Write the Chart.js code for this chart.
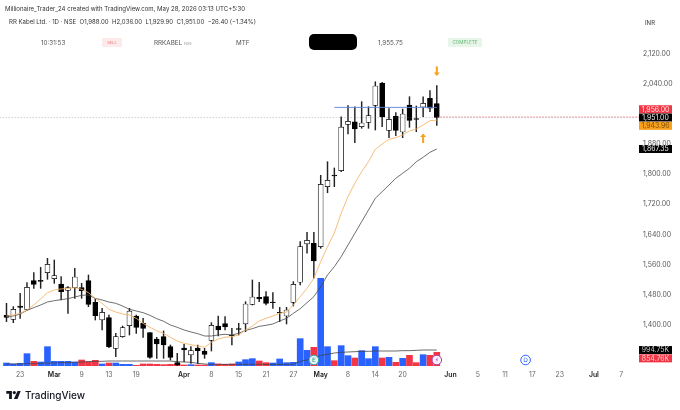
<!DOCTYPE html>
<html>
<head>
<meta charset="utf-8">
<title>RR Kabel Ltd. 1D</title>
<script src="https://cdn.jsdelivr.net/npm/chart.js@4"></script>
<style>
    html, body { margin: 0; padding: 0; background: #fff; }
    #wrap { position: relative; width: 680px; height: 410px; overflow: hidden; font-family: Inter, "Noto Sans", sans-serif; color: #4a4a4a; filter: blur(0.3px); }
    #wrap canvas { position: absolute; left: 0; top: 0; }
    .t { position: absolute; white-space: nowrap; font-size: 6.3px; line-height: 10px; }
    .pill { position: absolute; border-radius: 1px; text-align: center; }
    .blackout { position: absolute; left: 309px; top: 34px; width: 48px; height: 16px; background: #000; border-radius: 5px; }
    .logo_text { position: absolute; left: 25px; top: 387px; font-size: 10px; line-height: 17px; font-weight: 500; color: #131722; }
</style>
</head>
<body>
<div id="wrap">
    <canvas id="chart" width="680" height="410"></canvas>

    <div class="t" style="left:5px;top:4px;font-size:6.05px;color:#333">Millionaire_Trader_24 created with TradingView.com, May 28, 2026 03:13 UTC+5:30</div>
    <div class="t" style="left:9px;top:17px;font-size:6.05px;color:#333">RR Kabel Ltd. · 1D · NSE &nbsp;O1,988.00 &nbsp;H2,036.00 &nbsp;L1,929.90 &nbsp;C1,951.00 &nbsp;−26.40 (−1.34%)</div>

    <div class="t" style="left:41px;top:37.5px;color:#555">10:31:53</div>
    <div class="pill" style="left:102px;top:38px;width:20px;height:9px;background:#fdeaea;color:#e8707a;font-size:4px;line-height:9px">SELL</div>
    <div class="t" style="left:154px;top:37.5px;color:#555">RRKABEL <span style="font-size:4px;color:#999">NSE</span></div>
    <div class="t" style="left:236px;top:37.5px;color:#555">MTF</div>
    <div class="blackout"></div>
    <div class="t" style="left:378px;top:37.5px;color:#555">1,955.75</div>
    <div class="pill" style="left:448px;top:38px;width:34px;height:9px;background:#e8f6ea;color:#62b873;font-size:4.6px;line-height:9px">COMPLETE</div>
    <div class="t" style="left:645px;top:18px;font-size:6px;color:#333">INR</div>

    <svg style="position:absolute;left:6px;top:391px" width="15" height="8" viewBox="0 0 36 20">
        <path fill="#131722" d="M0 0h14v20H7V7H0z"/>
        <circle cx="20" cy="4" r="4" fill="#131722"/>
        <path fill="#131722" d="M28 0h8l-8 20h-9z"/>
    </svg>
    <div class="logo_text">TradingView</div>
</div>

<script>
// ========== DATA ==========
const dates_i = [2, 7, 11, 15, 19, 26, 30, 34, 38, 42, 46, 50, 54, 58, 65, 69, 73, 77, 81, 86, 90];
const date_labels = ['23', 'Mar', '9', '13', '19', 'Apr', '8', '15', '21', '27', 'May', '8', '14', '20', 'Jun', '5', '11', '17', '23', 'Jul', '7'];
const month_labels = ['Mar', 'Apr', 'May', 'Jun', 'Jul'];
const price_ticks = [2120, 2040, 1960, 1880, 1800, 1720, 1640, 1560, 1480, 1400];

const opens = [1424.8, 1414.2, 1449.6, 1440.8, 1517, 1517.9, 1538.3, 1522.3, 1508.2, 1491.3, 1498.4, 1498.4, 1517, 1459.4, 1412.4, 1418.6,
    1337, 1368, 1397.3, 1423, 1403.5, 1378.7, 1361.8, 1368, 1341.5, 1298.9, 1337.9, 1319.3, 1337.9, 1329.9, 1358.3, 1396.4,
    1402.6, 1372.5, 1389.3, 1401.8, 1454.1, 1472.7, 1474.5, 1460.3, 1432.8, 1423, 1459.4, 1512.7, 1614.6, 1616.5, 1607.4, 1767,
    1798, 1809.6, 1933, 1939.9, 1926.6, 1938.3, 1983.5, 2042.9, 1917, 1954.3, 1912.5, 1984.3, 1948.4, 1979, 2002.2, 1988];
const highs = [1456.7, 1447.9, 1483.3, 1511.7, 1538.3, 1552.5, 1576.4, 1572, 1527.7, 1501, 1549.8, 1509.9, 1532.1, 1470, 1443.4, 1425.7,
    1376.9, 1396.4, 1443.4, 1425.7, 1416.8, 1378.7, 1366.3, 1383.1, 1345.9, 1323.7, 1347.7, 1341.5, 1345.9, 1337, 1405.3, 1423,
    1421.3, 1390.2, 1403.5, 1461.2, 1518.8, 1512.6, 1487.8, 1485.1, 1446, 1446, 1514.4, 1620.7, 1645.7, 1645.7, 1797.3, 1833.5,
    1816.8, 1953.2, 1982.5, 1979.8, 1993.1, 1979.8, 2046.3, 2044.7, 1974.5, 1963.9, 1973.7, 2006.4, 1981.7, 2006.4, 2022.4, 2036];
const lows = [1408, 1405.3, 1416.8, 1439, 1496.6, 1496.6, 1520.6, 1509.9, 1465.6, 1430.1, 1470, 1470, 1447.9, 1412.4, 1385.8, 1338.8,
    1314.9, 1366.3, 1372.5, 1376.9, 1366.3, 1310.4, 1310.4, 1310.4, 1306, 1288.3, 1301.6, 1297.1, 1297.1, 1310.4, 1329.9, 1369.8,
    1385.8, 1345.9, 1372.5, 1381.4, 1452.3, 1461.2, 1452.3, 1443.4, 1408, 1401.8, 1449.6, 1505.5, 1589.9, 1523.4, 1603.2, 1751,
    1767, 1806.9, 1907.2, 1884, 1922.4, 1922.4, 1917.8, 1926.6, 1897.4, 1902.7, 1897.4, 1925, 1913.3, 1953.2, 1966.5, 1929.9];
const closes = [1419.5, 1440.8, 1446, 1499.3, 1507.3, 1515.2, 1560.5, 1530.3, 1487.8, 1498.4, 1526.8, 1490.4, 1454.1, 1423.9, 1432.8, 1341.5,
    1368, 1392, 1436.3, 1392.9, 1390.2, 1313, 1348.6, 1345.9, 1313, 1292.7, 1332.6, 1330.8, 1330.8, 1321, 1398.2, 1385.8,
    1393.8, 1370.7, 1387.6, 1455, 1473.6, 1468.3, 1456.7, 1458.5, 1431, 1439, 1507.3, 1607.4, 1624.5, 1569.4, 1773.4, 1784,
    1795.5, 1925.8, 1941, 1920.5, 1936.5, 1955.9, 2034.9, 1952.4, 1946.3, 1917, 1960.4, 1943.6, 1945.8, 1988.9, 1975.6, 1951];

const ema_fast = [1423, 1425.7, 1430.1, 1439, 1452.3, 1468.3, 1485.1, 1492.2, 1494.9, 1496.6, 1498.4, 1494, 1485.1, 1470, 1456.7, 1440.8,
    1433.7, 1428.4, 1425.7, 1416.8, 1403.5, 1392.9, 1384, 1376.9, 1366.3, 1356.5, 1350.3, 1346.8, 1343.2, 1339.7, 1353, 1361.8,
    1366.3, 1368, 1372.5, 1385.8, 1396.4, 1409.7, 1416.8, 1423, 1430.1, 1433.7, 1452.3, 1474.5, 1496.6, 1523.2, 1567.5, 1607.4,
    1643.9, 1696.3, 1740.4, 1776, 1806.9, 1833.5, 1866.5, 1880.6, 1893.1, 1897.4, 1904.5, 1915.2, 1920.5, 1931.1, 1942.6, 1943.96];
const ema_slow = [1421.3, 1423, 1428.4, 1438.1, 1445.2, 1452.3, 1460.3, 1463.8, 1466.5, 1469.1, 1473.6, 1478, 1478.9, 1470, 1465.6, 1460.3,
    1456.7, 1449.6, 1440.8, 1436.3, 1431.9, 1424.8, 1415.9, 1408.9, 1399.1, 1392.9, 1385.8, 1380.5, 1376, 1369.8, 1369.8, 1372.5,
    1374.3, 1372.5, 1376.9, 1384.9, 1389.3, 1395.5, 1398.2, 1401.8, 1409.7, 1416.8, 1430.1, 1442.5, 1458.5, 1474.5, 1501, 1532.1,
    1554.2, 1580.8, 1611.9, 1643, 1674, 1705, 1736.2, 1753.7, 1771.5, 1789.4, 1802.7, 1816, 1833.5, 1845.2, 1858.5, 1867.35];

// volume in thousands, side: 1 blue, -1 red
const volumes = [187, 125, 166, 770, 291, 250, 1206, 291, 291, 291, 250, 374, 270, 354, 125, 187,
    187, 104, 104, 42, 125, 125, 104, 83, 104, 125, 62, 83, 62, 62, 208, 125,
    104, 125, 250, 395, 458, 312, 208, 187, 437, 208, 229, 1706, 978, 1165, 5470, 1206,
    333, 1269, 645, 499, 957, 458, 1206, 499, 541, 229, 478, 666, 208, 707, 666, 854.76];
const vol_side = [1, 1, 1, 1, -1, 1, 1, 1, 1, 1, 1, -1, -1, -1, 1, -1,
    1, 1, 1, -1, -1, -1, -1, -1, -1, -1, -1, 1, -1, -1, 1, -1,
    -1, -1, 1, 1, 1, -1, -1, 1, 1, 1, 1, 1, 1, -1, 1, 1,
    -1, 1, 1, -1, 1, 1, 1, -1, 1, -1, 1, -1, -1, 1, -1, -1];
const vol_ma = [125, 125, 125, 146, 146, 166, 187, 187, 208, 208, 229, 250, 270, 291, 291, 312,
    312, 312, 312, 312, 312, 312, 312, 312, 312, 270, 250, 229, 166, 125, 104, 104,
    104, 104, 104, 104, 104, 104, 104, 104, 104, 104, 104, 291, 374, 520, 666, 728,
    811, 853, 874, 894, 915, 915, 936, 936, 936, 936, 957, 957, 978, 998, 998, 994.75];

const level_x = [-1, 93];
const last_x = [63, 93];
const last_close = 1951;
const blue_x = [48, 63];
const blue_level = 1978;

// теги справа: значение, фон, цвет текста
const close_tags = [['1,956.00', '#f23645', '#ffe3e6'], ['1,951.00', '#000000', '#f2f2f2'], ['1,943.96', '#f9a11b', '#7a4d08']];
const ma_tag = ['1,867.35', 1867.35];
const vol_tags = [['994.75K', '#000000', '#d0d0d0'], ['854.76K', '#f23645', '#ffc9ce']];

// ========== PLUGIN ==========
function drawTag(ctx, text, y, bg, fg) {
    ctx.fillStyle = bg;
    ctx.fillRect(639, y - 4, 33, 8);
    ctx.fillStyle = fg;
    ctx.font = '6.9px Inter';
    ctx.textAlign = 'center';
    ctx.textBaseline = 'middle';
    ctx.fillText(text, 655.5, y + 0.3);
}

function drawArrow(ctx, x, y, dir) {
    ctx.fillStyle = '#f7a01a';
    ctx.fillRect(x - 1, y - dir * 4.5, 2, dir * 7);
    ctx.beginPath();
    ctx.moveTo(x, y + dir * 5);
    ctx.lineTo(x - 3, y + dir * 1.5);
    ctx.lineTo(x + 3, y + dir * 1.5);
    ctx.closePath();
    ctx.fill();
}

function drawBadge(ctx, x, y, text, stroke, fg, bg) {
    ctx.beginPath();
    ctx.arc(x, y, 4.8, 0, Math.PI * 2);
    ctx.fillStyle = bg;
    ctx.fill();
    ctx.lineWidth = 1;
    ctx.strokeStyle = stroke;
    ctx.stroke();
    ctx.fillStyle = fg;
    ctx.font = '6px "DejaVu Sans"';
    ctx.textAlign = 'center';
    ctx.textBaseline = 'middle';
    ctx.fillText(text, x, y + 0.4);
}

const overlays = {
    id: 'overlays',
    afterDraw(chart) {
        const ctx = chart.ctx;
        const xs = chart.scales.x, ys = chart.scales.y, yv = chart.scales.yVol;
        ctx.save();

        const closeY = ys.getPixelForValue(last_close);
        close_tags.forEach((t, i) => drawTag(ctx, t[0], closeY + (i - 1) * 8.3, t[1], t[2]));
        drawTag(ctx, ma_tag[0], ys.getPixelForValue(ma_tag[1]), '#000000', '#f2f2f2');

        const volY = yv.getPixelForValue(vol_ma[vol_ma.length - 1]);
        vol_tags.forEach((t, i) => drawTag(ctx, t[0], volY + i * 8.3, t[1], t[2]));

        drawArrow(ctx, xs.getPixelForValue(63), ys.getPixelForValue(2075), 1);
        drawArrow(ctx, xs.getPixelForValue(61), ys.getPixelForValue(1895), -1);

        const by = chart.chartArea.bottom - 6;
        drawBadge(ctx, xs.getPixelForValue(45), by, 'E', '#2aa6a0', '#1f8f8a', '#e4f6f5');
        drawBadge(ctx, xs.getPixelForValue(63), by, '⚡', '#a23bb8', '#a23bb8', '#fbf1fd');
        drawBadge(ctx, xs.getPixelForValue(76), by, 'D', '#2962ff', '#2962ff', '#ffffff');
        ctx.restore();
    }
};

// ========== CHART ==========
const idx = opens.map((_, i) => i);
const lineStyle = { type: 'line', pointRadius: 0, fill: false, tension: 0, borderJoinStyle: 'round' };

new Chart(document.querySelector('#chart'), {
    type: 'bar',
    data: {
        datasets: [
            { ...lineStyle, order: 1, label: 'close', data: level_x.map(x => ({ x, y: last_close })), borderColor: 'rgba(120,120,120,0.5)', borderWidth: 1, borderDash: [1, 2] },
            { ...lineStyle, order: 1, label: 'last', data: last_x.map(x => ({ x, y: last_close + 1.5 })), borderColor: 'rgba(242,54,69,0.45)', borderWidth: 1, borderDash: [2, 1] },
            { ...lineStyle, order: 1, label: 'level', data: blue_x.map(x => ({ x, y: blue_level })), borderColor: '#5f84d8', borderWidth: 0.9 },
            { ...lineStyle, order: 1, label: 'EMA fast', data: idx.map(i => ({ x: i, y: ema_fast[i] })), borderColor: '#f4b76b', borderWidth: 0.9 },
            { ...lineStyle, order: 1, label: 'EMA slow', data: idx.map(i => ({ x: i, y: ema_slow[i] })), borderColor: '#4a4a4a', borderWidth: 0.8 },
            {
                label: 'body', order: 2, grouped: false, barThickness: 5,
                data: idx.map(i => ({ x: i, y: [opens[i], closes[i]] })),
                backgroundColor: idx.map(i => closes[i] >= opens[i] ? '#ffffff' : '#000000'),
                borderColor: '#000000', borderWidth: 0.7, borderSkipped: false,
            },
            {
                label: 'wick', order: 3, grouped: false, barThickness: 0.8,
                data: idx.map(i => ({ x: i, y: [lows[i], highs[i]] })),
                backgroundColor: '#222222', borderWidth: 0,
            },
            { ...lineStyle, order: 4, label: 'Vol MA', yAxisID: 'yVol', data: idx.map(i => ({ x: i, y: vol_ma[i] })), borderColor: '#444444', borderWidth: 0.8 },
            {
                label: 'volume', order: 5, grouped: false, barThickness: 6, yAxisID: 'yVol',
                data: idx.map(i => ({ x: i, y: volumes[i] })),
                backgroundColor: vol_side.map(s => s > 0 ? '#2962ff' : '#f23645'), borderWidth: 0,
            },
        ]
    },
    options: {
        responsive: false,
        animation: false,
        layout: { padding: { top: 38, left: 0, right: 0, bottom: 0 } },
        plugins: { legend: { display: false }, tooltip: { enabled: false } },
        scales: {
            x: {
                type: 'linear',
                offset: false,
                min: -0.95,
                max: 92.75,
                grid: { display: false, drawTicks: false },
                border: { display: false },
                afterFit(scale) { scale.height = 44; },
                afterBuildTicks(scale) { scale.ticks = dates_i.map(value => ({ value })); },
                ticks: {
                    autoSkip: false,
                    maxRotation: 0,
                    padding: 5,
                    color: ctx => month_labels.includes(date_labels[ctx.index]) ? '#222222' : '#666666',
                    font: ctx => ({ family: 'Inter', size: 6.9, weight: month_labels.includes(date_labels[ctx.index]) ? '600' : '400' }),
                    callback: (value, i) => date_labels[i],
                },
            },
            y: {
                position: 'right',
                min: 1290,
                max: 2162.6,
                grid: { display: false, drawTicks: false },
                border: { display: false },
                afterFit(scale) { scale.width = 40; },
                afterBuildTicks(scale) { scale.ticks = price_ticks.map(value => ({ value })); },
                ticks: {
                    autoSkip: false,
                    padding: 3,
                    color: '#555555',
                    font: { family: 'Inter', size: 6.9 },
                    callback: value => value.toLocaleString('en-US', { minimumFractionDigits: 2 }),
                },
            },
            yVol: {
                display: false,
                min: 0,
                max: 20470,
            },
        },
    },
    plugins: [overlays],
});
</script>
</body>
</html>
